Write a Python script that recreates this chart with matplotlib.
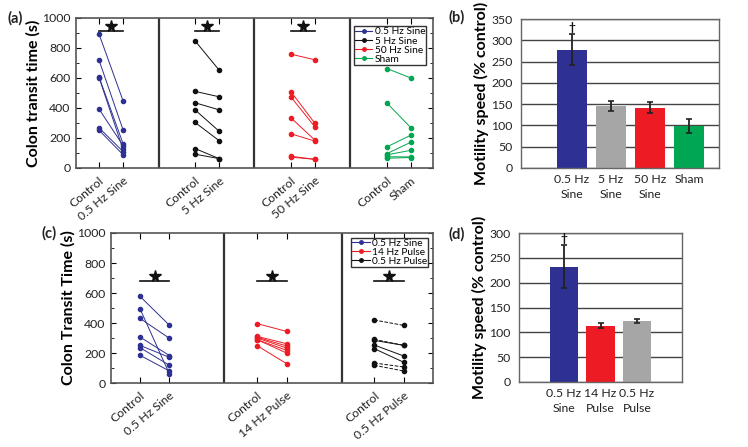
import matplotlib
matplotlib.use("Agg")
import matplotlib.pyplot as plt
from matplotlib.lines import Line2D

plt.rcParams['font.family'] = ['Lato', 'DejaVu Sans']

# ---- panel (a): colon transit time, sine stimulation ----
a_labels = ['0.5 Hz Sine', '5 Hz Sine', '50 Hz Sine', 'Sham']
a_ctrl = [
    [893, 719, 607, 603, 393, 268, 252],
    [848, 511, 435, 388, 304, 130, 92],
    [759, 509, 473, 335, 228, 78, 72],
    [663, 433, 141, 96, 88, 75, 65],
]
a_trt = [
    [449, 255, 163, 125, 150, 110, 89],
    [654, 475, 388, 246, 183, 63, 63],
    [721, 297, 274, 185, 179, 58, 58],
    [600, 268, 219, 172, 118, 74, 70],
]
a_sig = [True, True, True, False]

# ---- panel (b): motility speed ----
b_labels = ['0.5 Hz\nSine', '5 Hz\nSine', '50 Hz\nSine', 'Sham']
b_vals = [278, 145, 142, 99]
b_err = [37, 12, 12, 16]

# ---- panel (c): colon transit time, pulse stimulation ----
c_labels = ['0.5 Hz Sine', '14 Hz Pulse', '0.5 Hz Pulse']
c_ctrl = [
    [578, 496, 431, 307, 251, 236, 185],
    [396, 311, 305, 300, 289, 289, 249],
    [420, 291, 284, 253, 229, 133, 118],
]
c_trt = [
    [385, 60, 298, 183, 171, 118, 80],
    [344, 262, 247, 233, 218, 200, 129],
    [384, 251, 251, 180, 138, 107, 80],
]
c_dashed = [True, True, False, False, False, True, True]

# ---- panel (d): motility speed ----
d_labels = ['0.5 Hz\nSine', '14 Hz\nPulse', '0.5 Hz\nPulse']
d_vals = [232, 113, 123]
d_err = [43, 5, 4]

BLUE = '#2e3192'
GRAY = '#a6a6a6'
RED = '#ed1c24'
GREEN = '#00a651'
BLACK = '#111111'
TXT = '#222222'
FS = 8.8

W, H = 748, 447
fig = plt.figure(figsize=(W / 100, H / 100), dpi=100)


def px_axes(x0, y0, x1, y1):
    return fig.add_axes([x0 / W, 1 - y1 / H, (x1 - x0) / W, (y1 - y0) / H])


def transit_panel(ax, ctrl, trt, labels, colors, spacing, dividers, xlim,
                  sig_y, ylabel, dashed=None):
    xt, xl = [], []
    for i, (c, t) in enumerate(zip(ctrl, trt)):
        x0 = i * spacing
        for j, (cv, tv) in enumerate(zip(c, t)):
            ls = '--' if (dashed is not None and i == len(ctrl) - 1 and dashed[j]) else '-'
            ax.plot([x0, x0 + 1], [cv, tv], color=colors[i], lw=0.7, ls=ls,
                    marker='o', ms=3.0, mec=colors[i], mfc=colors[i])
        xt += [x0, x0 + 1]
        xl += ['Control', labels[i]]
    for d in dividers:
        ax.axvline(d, color='#333333', lw=1.6)
    for i, s in enumerate(sig_y):
        if s is None:
            continue
        x0 = i * spacing
        ax.plot([x0, x0 + 1], [s, s], color=BLACK, lw=1.2)
        ax.plot([x0 + 0.5], [s + 35], marker='*', ms=8.5, color=BLACK, mec=BLACK)
    ax.set_xlim(*xlim)
    ax.set_ylim(0, 1000)
    ax.set_yticks(range(0, 1001, 200))
    ax.set_yticks(range(0, 1001, 100), minor=True)
    ax.set_xticks(xt)
    ax.set_xticklabels(xl, rotation=40, ha='right', rotation_mode='anchor',
                       fontsize=FS, color=TXT)
    ax.tick_params(axis='y', which='both', direction='in', right=True,
                   labelsize=FS, labelcolor=TXT, pad=4)
    ax.tick_params(axis='x', direction='in', top=True, length=4, pad=5)
    ax.set_ylabel(ylabel, fontsize=11.5, fontweight='bold', labelpad=1)
    for sp in ax.spines.values():
        sp.set_color('#555555')
        sp.set_linewidth(1.2)


def bar_panel(ax, labels, vals, errs, colors, ylim, xlim, step, ylabel):
    xs = list(range(len(vals)))
    ax.set_axisbelow(True)
    ax.yaxis.grid(True, color='#444444', lw=1.0)
    ax.bar(xs, vals, width=0.77, color=colors, zorder=2)
    ax.errorbar(xs, vals, yerr=errs, fmt='none', ecolor='#222222',
                elinewidth=1.3, capsize=2.5, capthick=1.2, zorder=3)
    ax.text(xs[0], vals[0] + errs[0] + 2, '\u2020', ha='center', va='bottom',
            fontsize=8.5, fontweight='bold', color=BLACK)
    ax.set_xlim(*xlim)
    ax.set_ylim(*ylim)
    ax.set_yticks(range(ylim[0], ylim[1] + 1, step))
    ax.set_xticks(xs)
    ax.set_xticklabels(labels, fontsize=FS, linespacing=1.5, color=TXT)
    ax.tick_params(axis='x', length=0, pad=4)
    ax.tick_params(axis='y', length=0, labelsize=FS, labelcolor=TXT, pad=6)
    ax.set_ylabel(ylabel, fontsize=11.5, fontweight='bold', labelpad=2)
    for sp in ax.spines.values():
        sp.set_color('#666666')
        sp.set_linewidth(1.0)


leg_kw = dict(loc='upper right', fontsize=7.3, handlelength=1.7,
              handletextpad=0.25, borderpad=0.1, labelspacing=0.0,
              borderaxespad=0.3, fancybox=False, edgecolor='#333333',
              framealpha=1)

# (a)
ax_a = px_axes(76, 18, 433, 168)
transit_panel(ax_a, a_ctrl, a_trt, a_labels, [BLUE, BLACK, RED, GREEN], 4,
              [2.5, 6.47, 10.47], (-0.96, 13.92),
              [915 if s else None for s in a_sig], 'Colon transit time (s)')
ax_a.legend(handles=[Line2D([], [], color=c, lw=0.8, marker='o', ms=2.5)
                     for c in [BLUE, BLACK, RED, GREEN]],
            labels=a_labels, bbox_to_anchor=(0.99, 0.965), **leg_kw)

# (b)
ax_b = px_axes(521, 19, 719, 168)
bar_panel(ax_b, b_labels, b_vals, b_err, [BLUE, GRAY, RED, GREEN], (0, 350),
          (-1.31, 3.77), 50, 'Motility speed (% control)')

# (c)
ax_c = px_axes(111, 233, 433, 383)
transit_panel(ax_c, c_ctrl, c_trt, c_labels, [BLUE, RED, BLACK], 3.97,
              [2.85, 6.85], (-0.98, 9.93), [678, 678, 678],
              'Colon Transit Time (s)', dashed=c_dashed)
ax_c.legend(handles=[Line2D([], [], color=c, lw=0.8, marker='o', ms=2.5)
                     for c in [BLUE, RED, BLACK]],
            labels=c_labels, bbox_to_anchor=(0.995, 0.99), **leg_kw)

# (d)
ax_d = px_axes(519, 233, 682, 382)
bar_panel(ax_d, d_labels, d_vals, d_err, [BLUE, RED, GRAY], (0, 300),
          (-1.23, 3.23), 50, 'Motility speed (% control)')

for lbl, x, y in [('(a)', 8, 18), ('(b)', 449, 17), ('(c)', 42, 233), ('(d)', 449, 234)]:
    fig.text(x / W, 1 - y / H, lbl, fontsize=10.5, fontweight='bold',
             va='center', color=TXT)

fig.savefig('out.png', dpi=100)
